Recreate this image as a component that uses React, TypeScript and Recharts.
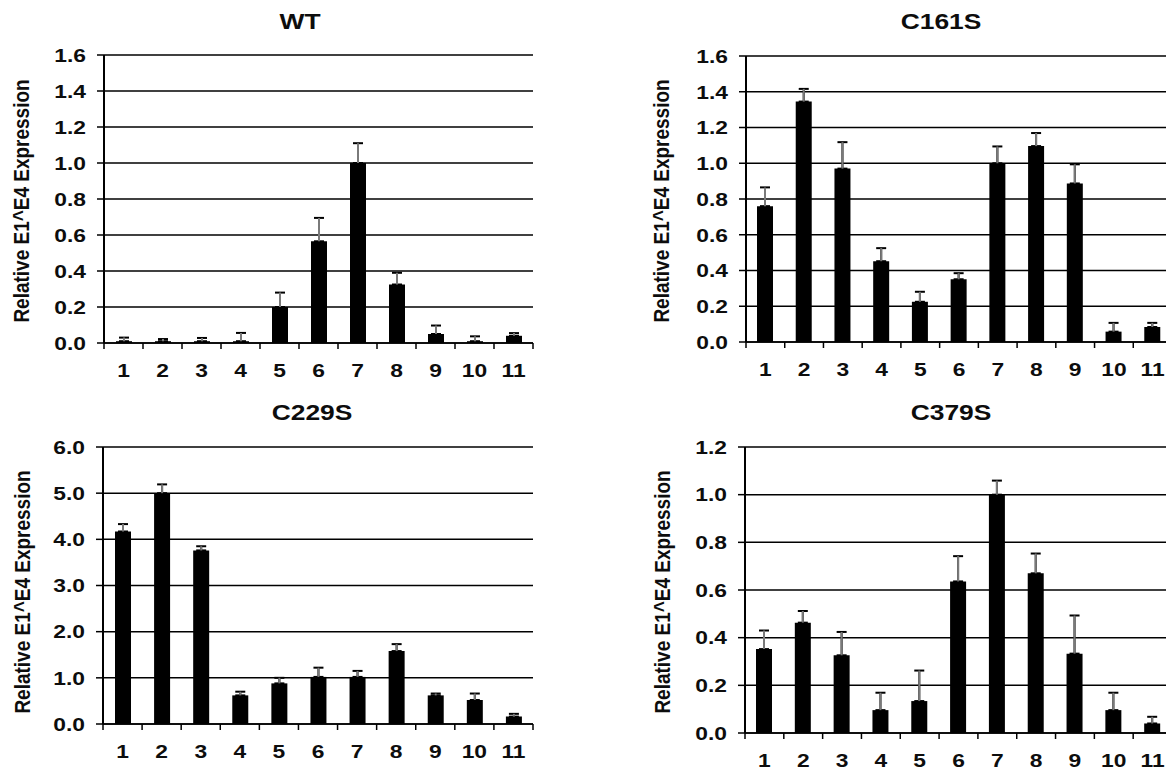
import React from "react";
import { BarChart, Bar, XAxis, YAxis, CartesianGrid, ErrorBar } from "recharts";

const lanes = ["1", "2", "3", "4", "5", "6", "7", "8", "9", "10", "11"];

const wtValues = [0.01, 0.01, 0.01, 0.01, 0.2, 0.565, 1.0, 0.325, 0.05, 0.01, 0.04];
const wtErrors = [0.02, 0.012, 0.018, 0.046, 0.08, 0.13, 0.11, 0.065, 0.047, 0.027, 0.015];

const c161sValues = [0.76, 1.345, 0.97, 0.452, 0.225, 0.351, 1.0, 1.096, 0.887, 0.058, 0.084];
const c161sErrors = [0.105, 0.071, 0.148, 0.073, 0.056, 0.034, 0.094, 0.073, 0.107, 0.049, 0.023];

const c229sValues = [4.17, 5.0, 3.76, 0.62, 0.88, 1.02, 1.02, 1.58, 0.62, 0.52, 0.16];
const c229sErrors = [0.16, 0.19, 0.09, 0.08, 0.12, 0.2, 0.13, 0.15, 0.04, 0.14, 0.06];

const c379sValues = [0.352, 0.463, 0.326, 0.096, 0.134, 0.636, 1.0, 0.67, 0.333, 0.096, 0.04];
const c379sErrors = [0.078, 0.049, 0.098, 0.073, 0.128, 0.106, 0.059, 0.083, 0.16, 0.073, 0.028];

const ticks16 = [0, 0.2, 0.4, 0.6, 0.8, 1.0, 1.2, 1.4, 1.6];
const ticks6 = [0, 1, 2, 3, 4, 5, 6];
const ticks12 = [0, 0.2, 0.4, 0.6, 0.8, 1.0, 1.2];

const yLabel = "Relative E1^E4 Expression";

const FONT = "'Liberation Sans', Arial, Helvetica, sans-serif";
const INK = "#0d0d0d";
const STRETCH = 1.2;

const build = (values: number[], errors: number[]) =>
  lanes.map((lane, i) => ({ lane, value: values[i], err: [0, errors[i]] }));

type PanelProps = {
  x: number;
  y: number;
  width: number;
  height: number;
  axisWidth: number;
  right: number;
  top: number;
  bottom: number;
  ticks: number[];
  values: number[];
  errors: number[];
};

function Panel({ x, y, width, height, axisWidth, right, top, bottom, ticks, values, errors }: PanelProps) {
  const data = build(values, errors);
  const band = (width - axisWidth - right) / lanes.length;

  // category ticks sit on the band edges, labels in the middle
  const XTick = (props: any) => {
    const { x: tx, y: ty, payload, index } = props;
    const axisY = ty - 8;
    const left = tx - band / 2;
    return (
      <g>
        <line x1={left} x2={left} y1={axisY} y2={axisY + 6} stroke="#000" strokeWidth={1.5} />
        {index === lanes.length - 1 && (
          <line x1={tx + band / 2} x2={tx + band / 2} y1={axisY} y2={axisY + 6} stroke="#000" strokeWidth={1.5} />
        )}
        <text
          transform={`translate(${tx},${axisY + 34}) scale(${STRETCH},1)`}
          textAnchor="middle"
          fontFamily={FONT}
          fontWeight="bold"
          fontSize={19}
          fill={INK}
        >
          {payload.value}
        </text>
      </g>
    );
  };

  const YTick = (props: any) => {
    const { x: tx, y: ty, payload } = props;
    return (
      <text
        transform={`translate(${tx},${ty + 6.8}) scale(${STRETCH},1)`}
        textAnchor="end"
        fontFamily={FONT}
        fontWeight="bold"
        fontSize={19}
        fill={INK}
      >
        {Number(payload.value).toFixed(1)}
      </text>
    );
  };

  return (
    <div style={{ position: "absolute", left: x, top: y }}>
      <BarChart
        width={width}
        height={height}
        data={data}
        margin={{ top, right, left: 0, bottom }}
        barSize={16}
      >
        <CartesianGrid vertical={false} stroke="#000" strokeWidth={1.5} />
        <XAxis
          dataKey="lane"
          interval={0}
          tickLine={false}
          tickSize={6}
          tickMargin={2}
          axisLine={{ stroke: "#000", strokeWidth: 1.5 }}
          tick={XTick}
        />
        <YAxis
          width={axisWidth}
          domain={[0, ticks[ticks.length - 1]]}
          ticks={ticks}
          interval={0}
          allowDataOverflow
          tickSize={7}
          tickMargin={11}
          tickLine={{ stroke: "#000", strokeWidth: 1.5 }}
          axisLine={{ stroke: "#000", strokeWidth: 2 }}
          tick={YTick}
        />
        <Bar dataKey="value" fill="#000" isAnimationActive={false}>
          <ErrorBar dataKey="err" direction="y" width={5} stroke="#000" strokeWidth={2} isAnimationActive={false} />
          <ErrorBar dataKey="err" direction="y" width={0} stroke="#7a7a7a" strokeWidth={2} isAnimationActive={false} />
        </Bar>
      </BarChart>
    </div>
  );
}

const titles = [
  { text: "WT", x: 300, y: 29 },
  { text: "C161S", x: 941, y: 29 },
  { text: "C229S", x: 312, y: 420 },
  { text: "C379S", x: 951, y: 420 },
];

const yLabels = [
  { x: 21, y: 201 },
  { x: 661, y: 201 },
  { x: 22, y: 592 },
  { x: 662, y: 592 },
];

export default function App() {
  return (
    <div style={{ position: "relative", width: 1166, height: 772, overflow: "hidden", background: "#fff" }}>
      <style>{"body{margin:0}"}</style>
      <Panel x={0} y={0} width={560} height={390} axisWidth={104} right={27} top={55} bottom={17} ticks={ticks16} values={wtValues} errors={wtErrors} />
      <Panel x={580} y={0} width={600} height={390} axisWidth={166} right={8} top={56} bottom={18} ticks={ticks16} values={c161sValues} errors={c161sErrors} />
      <Panel x={0} y={380} width={560} height={392} axisWidth={103} right={27} top={67} bottom={18} ticks={ticks6} values={c229sValues} errors={c229sErrors} />
      <Panel x={580} y={380} width={600} height={392} axisWidth={165} right={8} top={67} bottom={9} ticks={ticks12} values={c379sValues} errors={c379sErrors} />
      <svg
        width={1166}
        height={772}
        style={{ position: "absolute", left: 0, top: 0, pointerEvents: "none" }}
      >
        {titles.map((t) => (
          <text
            key={t.text}
            transform={`translate(${t.x},${t.y}) scale(${STRETCH},1)`}
            textAnchor="middle"
            fontFamily={FONT}
            fontWeight="bold"
            fontSize={22}
            fill={INK}
          >
            {t.text}
          </text>
        ))}
        {yLabels.map((l, i) => (
          <text
            key={i}
            transform={`translate(${l.x},${l.y}) rotate(-90) scale(1,${STRETCH})`}
            textAnchor="middle"
            dominantBaseline="central"
            fontFamily={FONT}
            fontWeight="bold"
            fontSize={19}
            fill={INK}
          >
            {yLabel}
          </text>
        ))}
      </svg>
    </div>
  );
}
